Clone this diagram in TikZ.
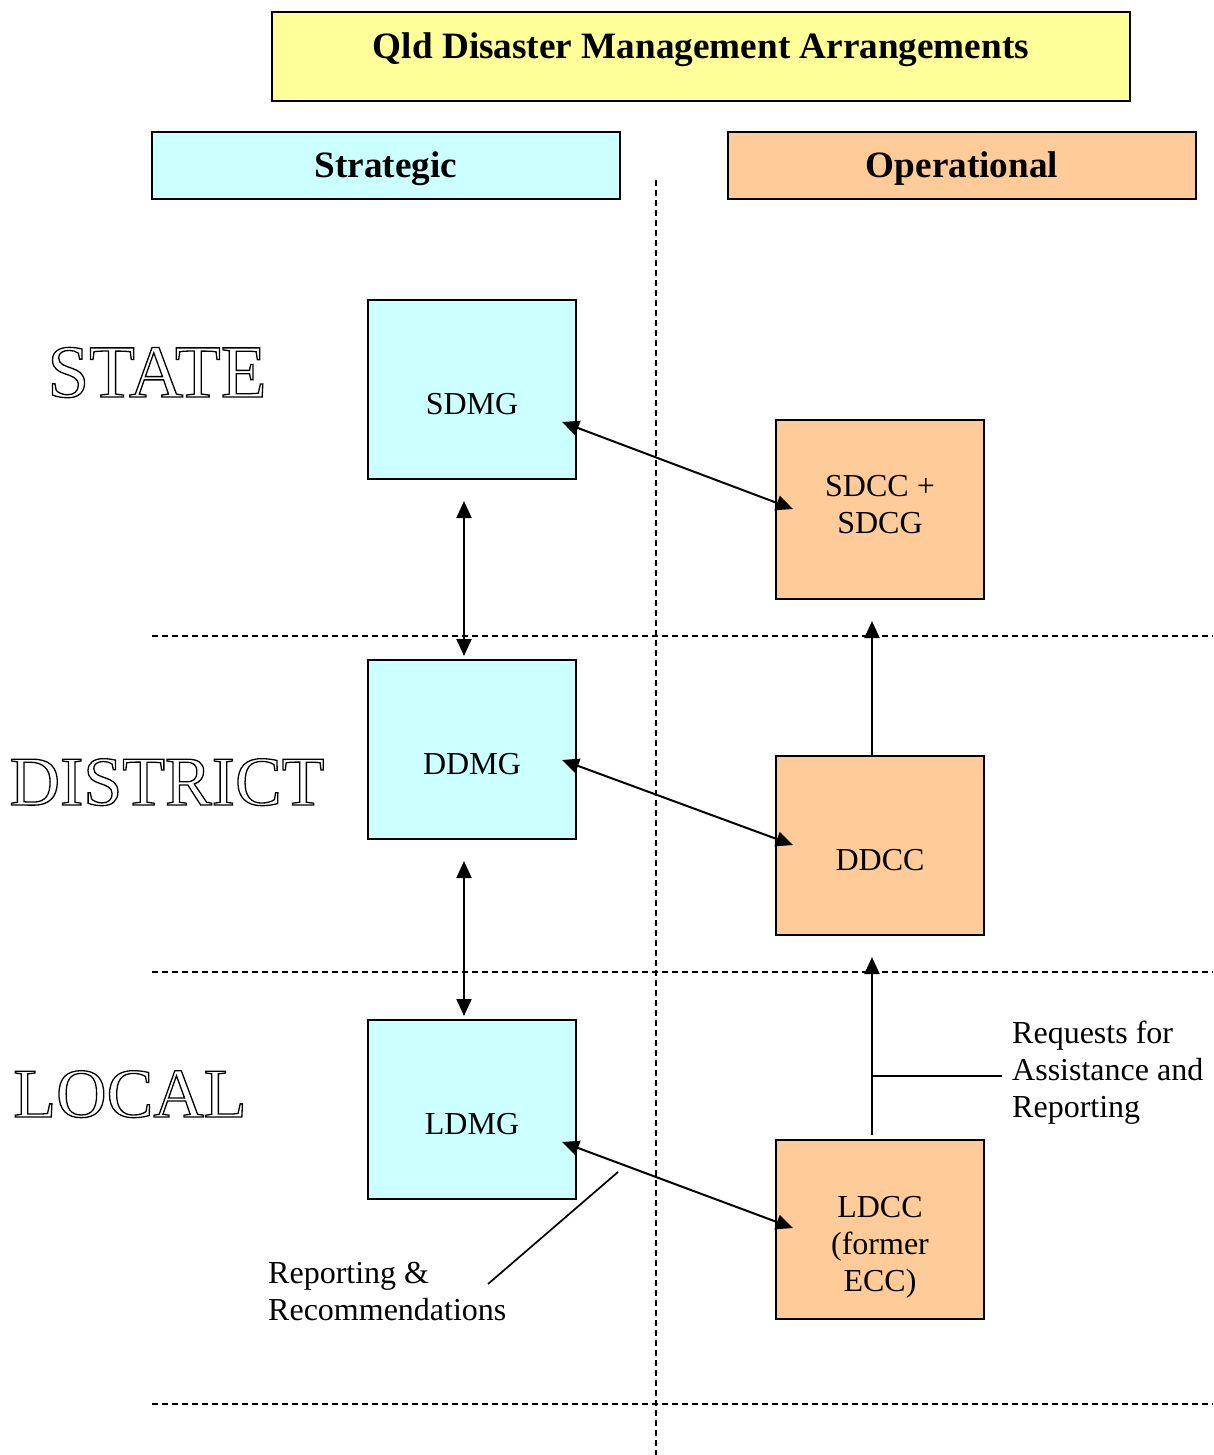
\documentclass[tikz,border=0pt]{standalone}
\usepackage{fontspec}
\setmainfont{Liberation Serif}
\usetikzlibrary{arrows.meta}
\definecolor{titlebg}{HTML}{FFFF99}
\definecolor{stratbg}{HTML}{CCFFFF}
\definecolor{opbg}{HTML}{FFCC99}
\newcommand{\hollowtext}[1]{\special{pdf:literal direct 1 Tr 1.3 w}#1\special{pdf:literal direct 0 Tr}}
\begin{document}
\begin{tikzpicture}[x=1pt,y=-1pt,
 box/.style={draw, line width=2pt, inner sep=0pt, minimum width=208pt, minimum height=179pt},
 sbox/.style={box, fill=stratbg},
 obox/.style={box, fill=opbg},
 hdr/.style={draw, line width=2pt, inner sep=0pt},
 hdrtxt/.style={anchor=base, inner sep=0pt, font=\fontsize{37.2}{44}\selectfont\bfseries},
 txt/.style={anchor=base, inner sep=0pt, font=\fontsize{32}{37}\selectfont},
 mtxt/.style={inner sep=0pt, align=center, font=\fontsize{32}{37}\selectfont},
 lbl/.style={inner sep=0pt, align=left, anchor=north west, font=\fontsize{32}{37}\selectfont},
 level/.style={anchor=base, inner sep=0pt, font=\fontsize{70}{80}\selectfont},
 sep/.style={dash pattern=on 6pt off 4pt, line width=1.6pt},
 dbl/.style={line width=2pt, {Triangle[length=17pt,width=15pt]}-{Triangle[length=17pt,width=15pt]}},
 uparr/.style={line width=2pt, -{Triangle[length=17pt,width=15pt]}},
 leader/.style={line width=1.7pt}]

\useasboundingbox (0,0) rectangle (1213,1455);

% separators
\coordinate (vtop) at (656,180); \coordinate (vbot) at (656,1455);
\draw[sep] (vtop) -- (vbot);
\coordinate (h1l) at (152,636); \coordinate (h1r) at (1213,636);
\coordinate (h2l) at (152,972); \coordinate (h2r) at (1213,972);
\coordinate (h3l) at (152,1404); \coordinate (h3r) at (1213,1404);
\draw[sep] (h1l) -- (h1r);
\draw[sep] (h2l) -- (h2r);
\draw[sep] (h3l) -- (h3r);

% header boxes
\node[hdr, fill=titlebg, minimum width=858pt, minimum height=89pt] (title) at (701,56.5) {};
\node[hdrtxt] (titletxt) at (701,59) {Qld Disaster Management Arrangements};
\node[hdr, fill=stratbg, minimum width=468pt, minimum height=67pt] (strat) at (386,165.5) {};
\node[hdrtxt] (strattxt) at (386,178) {Strategic};
\node[hdr, fill=opbg, minimum width=468pt, minimum height=67pt] (oper) at (962,165.5) {};
\node[hdrtxt] (opertxt) at (962,178) {Operational};

% level labels
\node[level, font=\fontsize{75}{85}\selectfont] (state) at (157,397) {\hollowtext{STATE}};
\node[level] (district) at (167,805) {\hollowtext{DISTRICT}};
\node[level] (local) at (130,1117) {\hollowtext{LOCAL}};

% strategic boxes
\node[sbox] (sdmg) at (472,389.5) {};
\node[txt] (sdmgtxt) at (472,414) {SDMG};
\node[sbox] (ddmg) at (472,749.5) {};
\node[txt] (ddmgtxt) at (472,774) {DDMG};
\node[sbox] (ldmg) at (472,1109.5) {};
\node[txt] (ldmgtxt) at (472,1134) {LDMG};

% operational boxes
\node[obox] (sdcc) at (880,509.5) {};
\node[mtxt] (sdcctxt) at (880,505) {SDCC +\\SDCG};
\node[obox] (ddcc) at (880,845.5) {};
\node[txt] (ddcctxt) at (880,870) {DDCC};
\node[obox] (ldcc) at (880,1229.5) {};
\node[mtxt] (ldcctxt) at (880,1247) {LDCC\\(former\\ECC)};

% horizontal double arrows
\coordinate (a1) at (562,422); \coordinate (b1) at (793,509);
\coordinate (a2) at (562,760); \coordinate (b2) at (793,845);
\coordinate (a3) at (562,1142); \coordinate (b3) at (793,1228);
\draw[dbl] (a1) -- (b1);
\draw[dbl] (a2) -- (b2);
\draw[dbl] (a3) -- (b3);

% vertical double arrows
\coordinate (v1a) at (464,501); \coordinate (v1b) at (464,656);
\coordinate (v2a) at (464,861); \coordinate (v2b) at (464,1016);
\draw[dbl] (v1a) -- (v1b);
\draw[dbl] (v2a) -- (v2b);

% upward arrows
\coordinate (up1) at (872,621);
\coordinate (up2) at (872,957);
\draw[uparr] (ddcc.north -| up1) -- (up1);
\draw[uparr] ([yshift=4pt]ldcc.north -| up2) -- (up2);

% labels and leaders
\node[lbl] (reqtxt) at (1012,1021) {Requests for\\Assistance and\\Reporting};
\coordinate (rq1) at (872,1076); \coordinate (rq2) at (1002,1076);
\draw[leader] (rq1) -- (rq2);
\node[lbl] (reptxt) at (268,1262) {Reporting \&\\Recommendations};
\coordinate (rp1) at (618,1172); \coordinate (rp2) at (488,1284);
\draw[leader] (rp1) -- (rp2);
\end{tikzpicture}
\end{document}
